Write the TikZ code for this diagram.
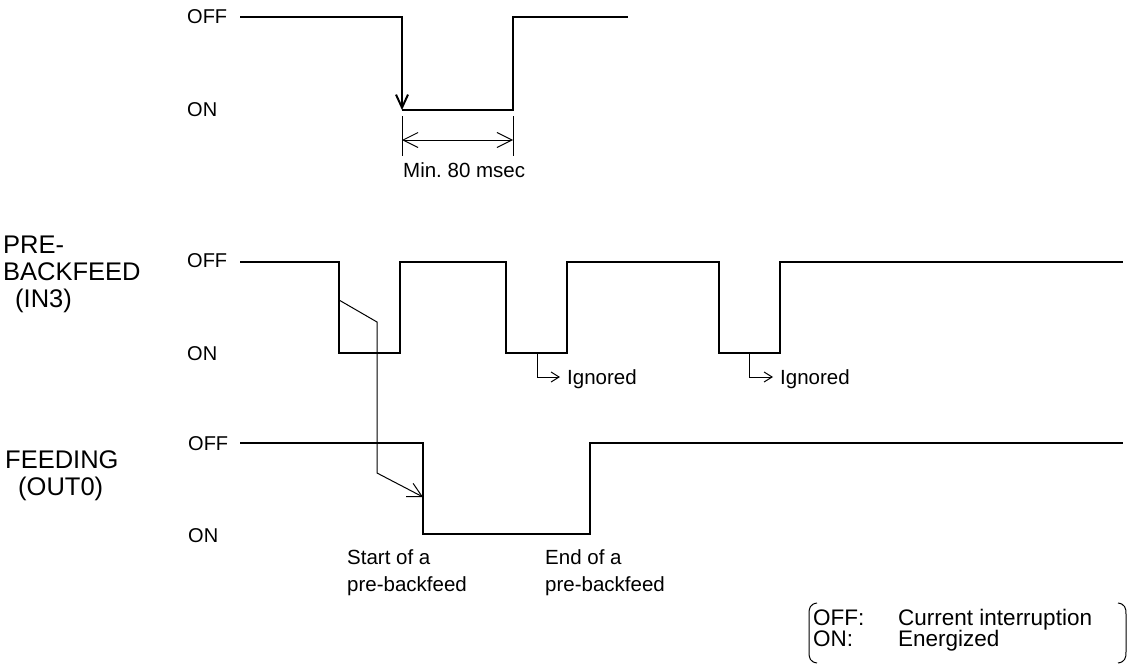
\documentclass[tikz,border=0pt]{standalone}
\usepackage{fontspec}
\setmainfont{Liberation Sans}
\usetikzlibrary{arrows.meta}
\frenchspacing

\begin{document}
\begin{tikzpicture}[x=1pt,y=-1pt,
  wave/.style={line width=2pt},
  note/.style={line width=1pt},
  lvl/.style={anchor=base west,inner sep=0pt,font=\fontsize{20}{24}\selectfont},
  sig/.style={anchor=base west,inner sep=0pt,align=left,font=\fontsize{25.5}{27}\selectfont},
  txt/.style={anchor=base west,inner sep=0pt,align=left,font=\fontsize{20.5}{27}\selectfont},
  barb/.style={-{Straight Barb[length=8pt,width=10pt]}}]

\useasboundingbox (0,0) rectangle (1130,664);

% 上部：最小脉宽
\node[lvl] (offT) at (187,23) {OFF};
\node[lvl] (onT) at (187,116) {ON};
\draw[wave,-{Straight Barb[length=13pt,width=12pt]}] (240,17) -- (402,17) -- (402,110);
\draw[wave] (402,110) -- (513,110) -- (513,17) -- (628,17);
\coordinate (d1a) at (402,116); \coordinate (d1b) at (402,156);
\coordinate (d2a) at (513,116); \coordinate (d2b) at (513,156);
\coordinate (dl) at (402,140); \coordinate (dr) at (513,140);
\draw[note] (d1a) -- (d1b);
\draw[note] (d2a) -- (d2b);
\draw[note,{Straight Barb[length=15pt,width=15pt]}-{Straight Barb[length=15pt,width=15pt]}] (dl) -- (dr);
\node[txt] (minT) at (403,177) {Min. 80 msec};

% PRE-BACKFEED (IN3)
\node[sig] (pre) at (3,307) {PRE-\\BACKFEED\\\hspace*{12pt}(IN3)};
\node[lvl] (offM) at (187,267) {OFF};
\node[lvl] (onM) at (187,360) {ON};
\draw[wave] (240,262) -- (339,262) -- (339,353) -- (400,353) -- (400,262)
  -- (506,262) -- (506,353) -- (567,353) -- (567,262)
  -- (719,262) -- (719,353) -- (780,353) -- (780,262) -- (1123,262);
\node[txt] (ign1) at (567,384) {Ignored};
\node[txt] (ign2) at (780,384) {Ignored};
\coordinate (i1) at (537,353); \coordinate (i1e) at (560,377);
\coordinate (i2) at (749,353); \coordinate (i2e) at (773,377);
\draw[note,barb] (i1) |- (i1e);
\draw[note,barb] (i2) |- (i2e);

% FEEDING (OUT0)
\node[sig] (feed) at (5,495) {FEEDING\\\hspace*{13pt}(OUT0)};
\node[lvl] (offB) at (188,450) {OFF};
\node[lvl] (onB) at (188,542) {ON};
\draw[wave] (240,443) -- (423,443) -- (423,534) -- (590,534) -- (590,443) -- (1123,443);
\node[txt] (start) at (347,591) {Start of a\\pre-backfeed};
\node[txt] (stop) at (545,591) {End of a\\pre-backfeed};

% 从 IN3 到 OUT0
\coordinate (k1) at (339,300); \coordinate (k2) at (377,322);
\coordinate (k3) at (377,473); \coordinate (k4) at (423,497);
\draw[note,-{Straight Barb[length=14pt,width=15pt]}] (k1) -- (k2) -- (k3) -- (k4);

% 说明
\node[anchor=base west,inner sep=0pt,font=\fontsize{22.5}{18}\selectfont] (legend) at (813,625)
  {\begin{tabular}[t]{@{}p{85pt}@{}l@{}}OFF: & Current interruption\\ON: & Energized\end{tabular}};
\draw[note] (817,603) .. controls (810,604) and (809,608) .. (809,614) -- (809,652)
  .. controls (809,658) and (810,662) .. (817,663);
\draw[note] (1118,603) .. controls (1125,604) and (1126,608) .. (1126,614) -- (1126,652)
  .. controls (1126,658) and (1125,662) .. (1118,663);

\end{tikzpicture}
\end{document}
